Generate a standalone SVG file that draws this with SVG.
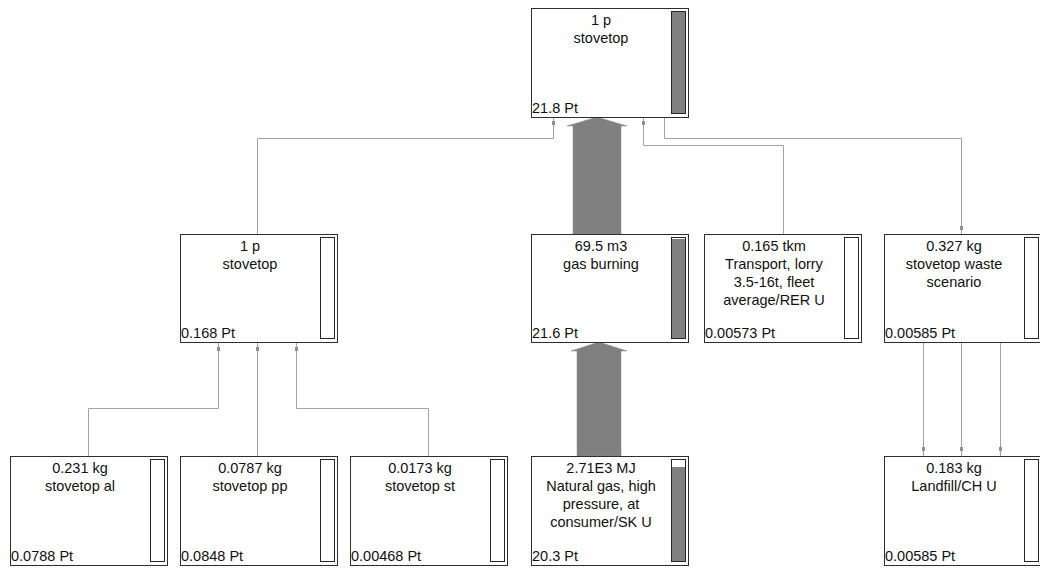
<svg xmlns="http://www.w3.org/2000/svg" width="1040" height="568" viewBox="0 0 1040 568">
<style>
.box{fill:#fff;stroke:#2e2e2e;stroke-width:1}
.bar{fill:#fff;stroke:#262626;stroke-width:1}
.fill{fill:#808080}
.t{font-family:"Liberation Sans",Arial,sans-serif;font-size:14.5px;fill:#111;text-anchor:middle}
.v{font-family:"Liberation Sans",Arial,sans-serif;font-size:14.5px;fill:#111}
.ln{fill:none;stroke:#a3a3a3;stroke-width:1}
.dot{fill:#8f8f8f}
.big{fill:#808080;stroke:#8a8a8a;stroke-width:0.5}
</style>
<rect width="1040" height="568" fill="#fff"/>
<g id="connectors">
<polygon class="big" points="573,234 573,126 567,126 597,117 627,126 621,126 621,234"/>
<polygon class="big" points="577,456 577,351 571,351 599,342 627,351 621,351 621,456"/>
<polyline class="ln" points="257.5,234 257.5,138.5 553.5,138.5 553.5,117"/>
<rect class="dot" x="552" y="121" width="3" height="4"/>
<polyline class="ln" points="783.5,234 783.5,145.5 643.5,145.5 643.5,117"/>
<rect class="dot" x="642" y="121" width="3" height="4"/>
<polyline class="ln" points="664.5,117 664.5,138.5 961.5,138.5 961.5,234"/>
<rect class="dot" x="960" y="226" width="3" height="4"/>
<polyline class="ln" points="88.5,456 88.5,408.5 218.5,408.5 218.5,342"/>
<rect class="dot" x="217" y="347" width="3" height="4"/>
<polyline class="ln" points="257.5,456 257.5,342"/>
<rect class="dot" x="256" y="347" width="3" height="4"/>
<polyline class="ln" points="428.5,456 428.5,408.5 296.5,408.5 296.5,342"/>
<rect class="dot" x="295" y="347" width="3" height="4"/>
<polyline class="ln" points="923.5,342 923.5,456"/>
<rect class="dot" x="922" y="447" width="3" height="4"/>
<polyline class="ln" points="961.5,342 961.5,456"/>
<rect class="dot" x="960" y="447" width="3" height="4"/>
<polyline class="ln" points="1000.5,342 1000.5,456"/>
<rect class="dot" x="999" y="447" width="3" height="4"/>
</g>
<g id="n0">
<rect class="box" x="531.5" y="8.5" width="157" height="109"/>
<rect class="bar" x="671.5" y="11.5" width="14" height="102"/>
<rect class="fill" x="672" y="12" width="13" height="101"/>
<text class="t" x="601" y="25">1 p</text>
<text class="t" x="601" y="43">stovetop</text>
<text class="v" x="532" y="113">21.8 Pt</text>
</g>
<g id="n1">
<rect class="box" x="180.5" y="234.5" width="157" height="108"/>
<rect class="bar" x="320.5" y="237.5" width="14" height="101"/>
<text class="t" x="250" y="251">1 p</text>
<text class="t" x="250" y="269">stovetop</text>
<text class="v" x="181" y="338">0.168 Pt</text>
</g>
<g id="n2">
<rect class="box" x="531.5" y="234.5" width="157" height="108"/>
<rect class="bar" x="671.5" y="237.5" width="14" height="101"/>
<rect class="fill" x="672" y="239" width="13" height="99"/>
<text class="t" x="601" y="251">69.5 m3</text>
<text class="t" x="601" y="269">gas burning</text>
<text class="v" x="532" y="338">21.6 Pt</text>
</g>
<g id="n3">
<rect class="box" x="704.5" y="234.5" width="157" height="108"/>
<rect class="bar" x="844.5" y="237.5" width="14" height="101"/>
<text class="t" x="774" y="251">0.165 tkm</text>
<text class="t" x="774" y="269">Transport, lorry</text>
<text class="t" x="774" y="287">3.5-16t, fleet</text>
<text class="t" x="774" y="305">average/RER U</text>
<text class="v" x="705" y="338">0.00573 Pt</text>
</g>
<g id="n4">
<rect class="box" x="884.5" y="234.5" width="157" height="108"/>
<rect class="bar" x="1024.5" y="237.5" width="14" height="101"/>
<text class="t" x="954" y="251">0.327 kg</text>
<text class="t" x="954" y="269">stovetop waste</text>
<text class="t" x="954" y="287">scenario</text>
<text class="v" x="885" y="338">0.00585 Pt</text>
</g>
<g id="n5">
<rect class="box" x="10.5" y="456.5" width="157" height="109"/>
<rect class="bar" x="150.5" y="459.5" width="14" height="102"/>
<text class="t" x="80" y="473">0.231 kg</text>
<text class="t" x="80" y="491">stovetop al</text>
<text class="v" x="11" y="561">0.0788 Pt</text>
</g>
<g id="n6">
<rect class="box" x="180.5" y="456.5" width="157" height="109"/>
<rect class="bar" x="320.5" y="459.5" width="14" height="102"/>
<text class="t" x="250" y="473">0.0787 kg</text>
<text class="t" x="250" y="491">stovetop pp</text>
<text class="v" x="181" y="561">0.0848 Pt</text>
</g>
<g id="n7">
<rect class="box" x="350.5" y="456.5" width="157" height="109"/>
<rect class="bar" x="490.5" y="459.5" width="14" height="102"/>
<text class="t" x="420" y="473">0.0173 kg</text>
<text class="t" x="420" y="491">stovetop st</text>
<text class="v" x="351" y="561">0.00468 Pt</text>
</g>
<g id="n8">
<rect class="box" x="531.5" y="456.5" width="157" height="109"/>
<rect class="bar" x="671.5" y="459.5" width="14" height="102"/>
<rect class="fill" x="672" y="467" width="13" height="94"/>
<text class="t" x="601" y="473">2.71E3 MJ</text>
<text class="t" x="601" y="491">Natural gas, high</text>
<text class="t" x="601" y="509">pressure, at</text>
<text class="t" x="601" y="527">consumer/SK U</text>
<text class="v" x="532" y="561">20.3 Pt</text>
</g>
<g id="n9">
<rect class="box" x="884.5" y="456.5" width="157" height="109"/>
<rect class="bar" x="1024.5" y="459.5" width="14" height="102"/>
<text class="t" x="954" y="473">0.183 kg</text>
<text class="t" x="954" y="491">Landfill/CH U</text>
<text class="v" x="885" y="561">0.00585 Pt</text>
</g>
</svg>
